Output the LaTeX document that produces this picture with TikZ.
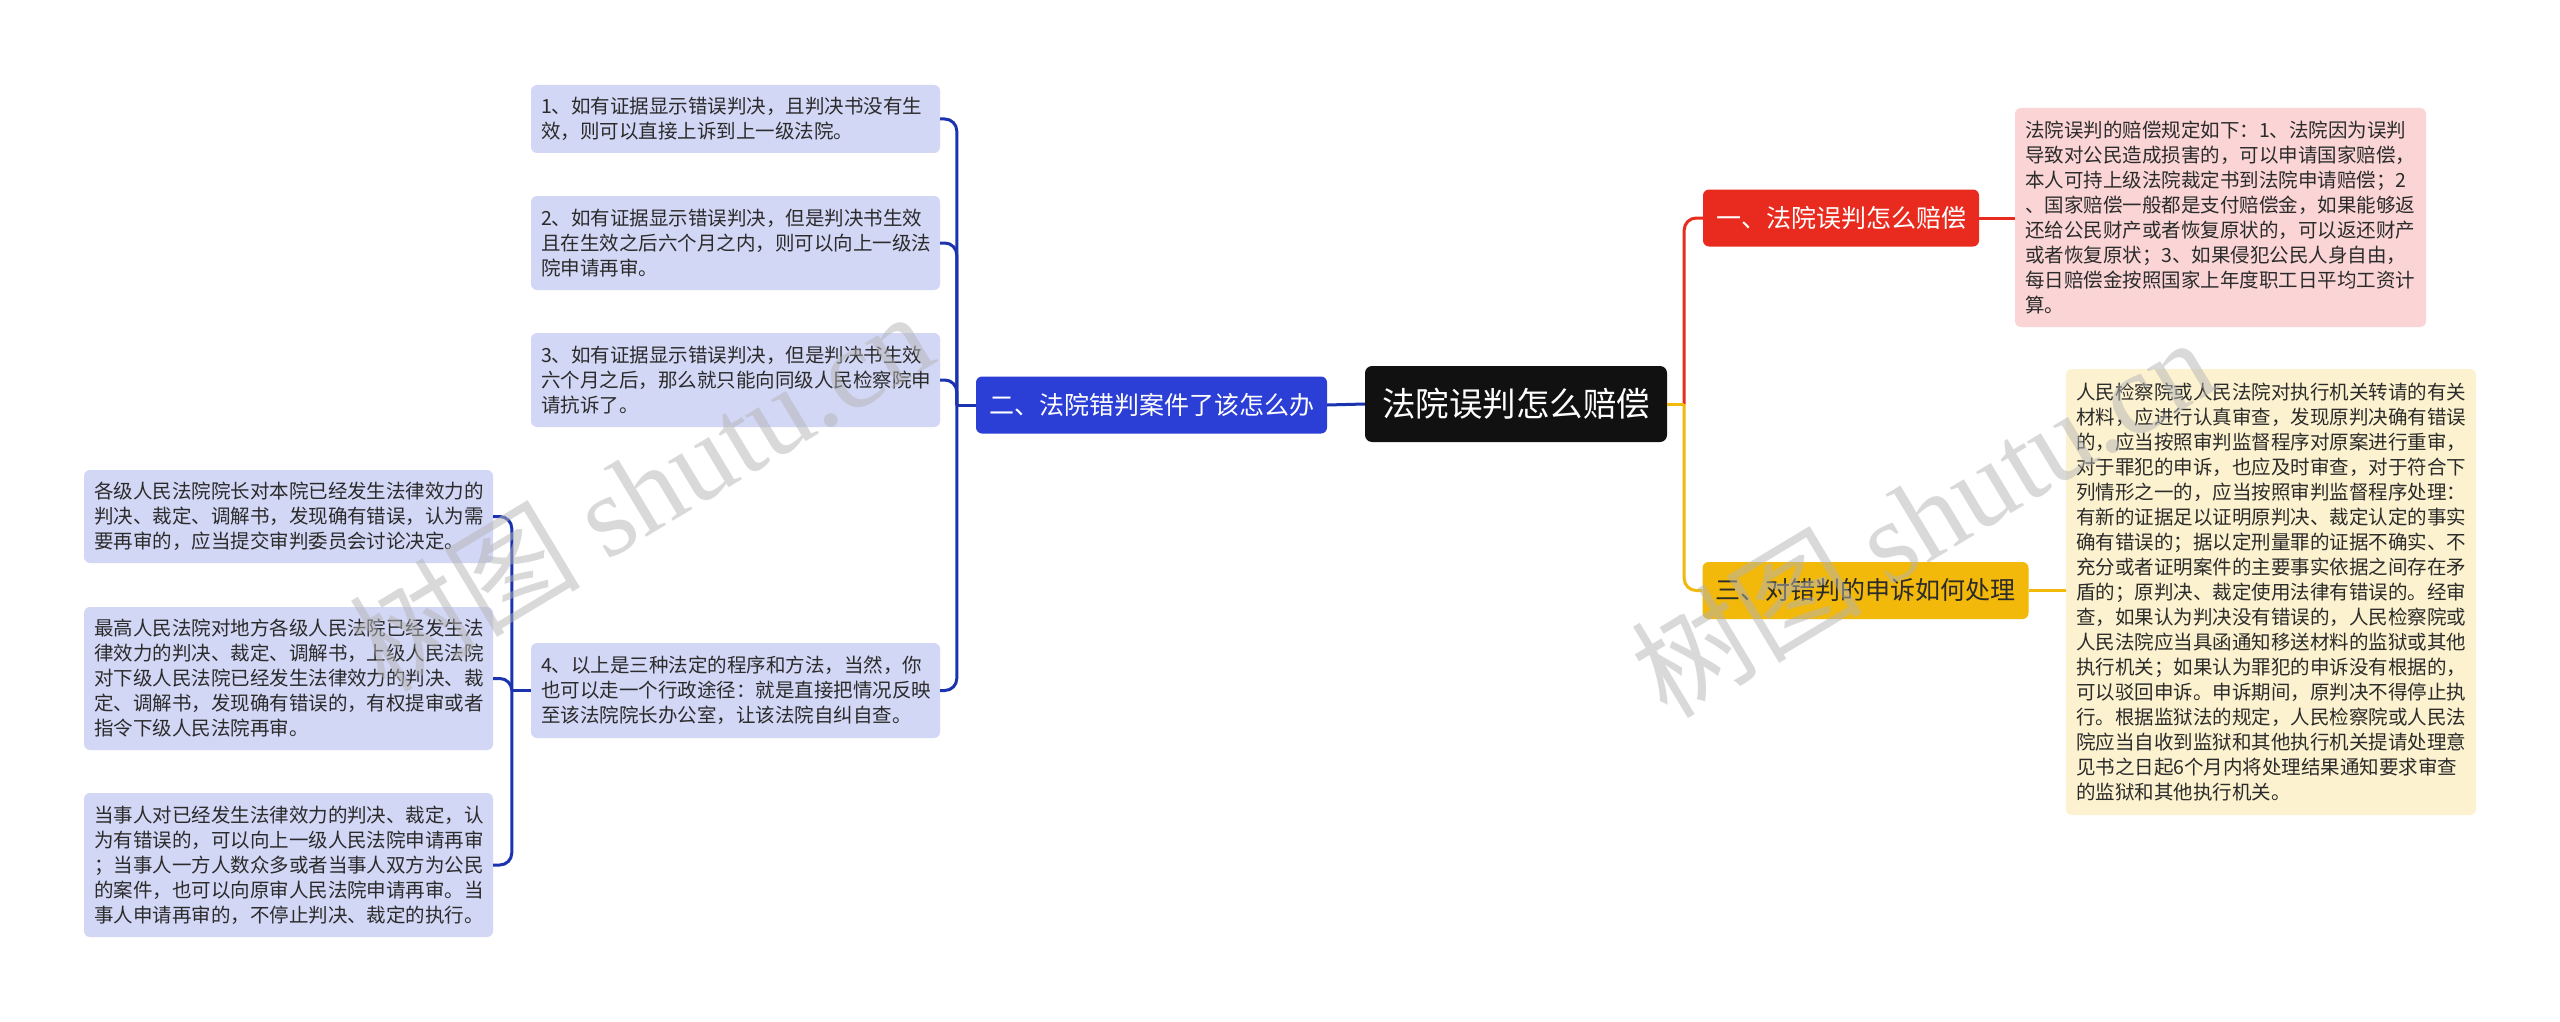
\documentclass[tikz,border=0pt]{standalone}
\usepackage{fontspec}
\setmainfont{Noto Sans CJK SC}
\newfontfamily\wmserif{Liberation Serif}
\usetikzlibrary{calc}
\definecolor{rootc}{HTML}{111111}
\definecolor{bluec}{HTML}{2B3ED6}
\definecolor{bluel}{HTML}{D3D7F6}
\definecolor{bluew}{HTML}{1C33B0}
\definecolor{redc}{HTML}{E82B1E}
\definecolor{redl}{HTML}{FBD5D5}
\definecolor{yelc}{HTML}{F2B80A}
\definecolor{yell}{HTML}{FCF2CF}
\definecolor{txt}{HTML}{2B2B2B}
\definecolor{wm}{HTML}{B4B4B4}
\begin{document}
\begin{tikzpicture}[x=1pt,y=-1pt,
  leafbox/.style={rounded corners=6pt, inner xsep=10pt, inner ysep=0pt,
    text width=389pt, align=left, font=\fontsize{19.5}{25}\selectfont, text=txt},
  mainbox/.style={rounded corners=6pt, inner xsep=13pt, inner ysep=0pt,
    minimum height=57pt, font=\fontsize{25}{30}\selectfont},
  rootbox/.style={rounded corners=7pt, fill=rootc, text=white, inner xsep=17pt,
    inner ysep=0pt, minimum height=76pt, font=\fontsize{33.5}{40}\selectfont},
  conn/.style={line width=3pt},
  wmark/.style={text=wm, opacity=0.5, rotate=31}
]
\fill[white] (0,0) rectangle (2560,1022);
\useasboundingbox (0,0) rectangle (2560,1022);

% root
\node[rootbox] (root) at (1516,404) {法院误判怎么赔偿};

% main branches
\node[mainbox, fill=bluec, text=white] (bm) at (1151.5,405) {二、法院错判案件了该怎么办};
\node[mainbox, fill=redc, text=white] (rm) at (1841,218) {一、法院误判怎么赔偿};
\node[mainbox, fill=yelc, text=txt] (ym) at (1865.5,590.5) {三、对错判的申诉如何处理};

% blue leaves
\node[leafbox, fill=bluel, minimum height=68pt] (l1) at (735.5,119) {1、如有证据显示错误判决，且判决书没有生\\效，则可以直接上诉到上一级法院。};
\node[leafbox, fill=bluel, minimum height=94pt] (l2) at (735.5,243) {2、如有证据显示错误判决，但是判决书生效\\且在生效之后六个月之内，则可以向上一级法\\院申请再审。};
\node[leafbox, fill=bluel, minimum height=94pt] (l3) at (735.5,380) {3、如有证据显示错误判决，但是判决书生效\\六个月之后，那么就只能向同级人民检察院申\\请抗诉了。};
\node[leafbox, fill=bluel, minimum height=95pt] (l4) at (735.5,690.5) {4、以上是三种法定的程序和方法，当然，你\\也可以走一个行政途径：就是直接把情况反映\\至该法院院长办公室，让该法院自纠自查。};

% left leaves
\node[leafbox, fill=bluel, minimum height=93pt] (la) at (288.5,516.5) {各级人民法院院长对本院已经发生法律效力的\\判决、裁定、调解书，发现确有错误，认为需\\要再审的，应当提交审判委员会讨论决定。};
\node[leafbox, fill=bluel, minimum height=143pt] (lb) at (288.5,678.5) {最高人民法院对地方各级人民法院已经发生法\\律效力的判决、裁定、调解书，上级人民法院\\对下级人民法院已经发生法律效力的判决、裁\\定、调解书，发现确有错误的，有权提审或者\\指令下级人民法院再审。};
\node[leafbox, fill=bluel, minimum height=144pt] (lc) at (288.5,865) {当事人对已经发生法律效力的判决、裁定，认\\为有错误的，可以向上一级人民法院申请再审\\；当事人一方人数众多或者当事人双方为公民\\的案件，也可以向原审人民法院申请再审。当\\事人申请再审的，不停止判决、裁定的执行。};

% red leaf
\node[leafbox, fill=redl, text width=391pt, minimum height=219pt] (rl) at (2220.5,217.5) {法院误判的赔偿规定如下：1、法院因为误判\\导致对公民造成损害的，可以申请国家赔偿，\\本人可持上级法院裁定书到法院申请赔偿；2\\、国家赔偿一般都是支付赔偿金，如果能够返\\还给公民财产或者恢复原状的，可以返还财产\\或者恢复原状；3、如果侵犯公民人身自由，\\每日赔偿金按照国家上年度职工日平均工资计\\算。};

% yellow leaf
\node[leafbox, fill=yell, text width=390pt, minimum height=446pt] (yl) at (2271,592) {人民检察院或人民法院对执行机关转请的有关\\材料，应进行认真审查，发现原判决确有错误\\的，应当按照审判监督程序对原案进行重审，\\对于罪犯的申诉，也应及时审查，对于符合下\\列情形之一的，应当按照审判监督程序处理：\\有新的证据足以证明原判决、裁定认定的事实\\确有错误的；据以定刑量罪的证据不确实、不\\充分或者证明案件的主要事实依据之间存在矛\\盾的；原判决、裁定使用法律有错误的。经审\\查，如果认为判决没有错误的，人民检察院或\\人民法院应当具函通知移送材料的监狱或其他\\执行机关；如果认为罪犯的申诉没有根据的，\\可以驳回申诉。申诉期间，原判决不得停止执\\行。根据监狱法的规定，人民检察院或人民法\\院应当自收到监狱和其他执行机关提请处理意\\见书之日起6个月内将处理结果通知要求审查\\的监狱和其他执行机关。};

% junction coordinates
\coordinate (jb) at ($(bm.west)+(-19,0)$);
\coordinate (jl) at ($(l4.west)+(-19,0)$);
\coordinate (jr) at ($(root.east)+(17,0)$);

% connectors
\draw[conn, bluew] (root.west) -- (bm.east);
\draw[conn, bluew] (bm.west) -- (jb);
\foreach \n in {l1,l2,l3,l4}
  \draw[conn, bluew, rounded corners=12pt] (jb) |- (\n.east);
\draw[conn, bluew] (l4.west) -- (jl);
\foreach \n in {la,lb,lc}
  \draw[conn, bluew, rounded corners=12pt] (jl) |- (\n.east);

\draw[conn, redc, rounded corners=12pt] (jr) |- (rm.west);
\draw[conn, redc] (rm.east) -- (rm.east -| rl.west);
\draw[conn, yelc] (root.east) -- (jr);
\draw[conn, yelc, rounded corners=12pt] (jr) |- (ym.west);
\draw[conn, yelc] (ym.east) -- (ym.east -| yl.west);

% watermarks
\node[wmark] (wm1) at (640,490) {\fontsize{116}{126}\selectfont 树图 {\wmserif shutu.cn}};
\node[wmark] (wm2) at (1922,516) {\fontsize{116}{126}\selectfont 树图 {\wmserif shutu.cn}};
\end{tikzpicture}
\end{document}
